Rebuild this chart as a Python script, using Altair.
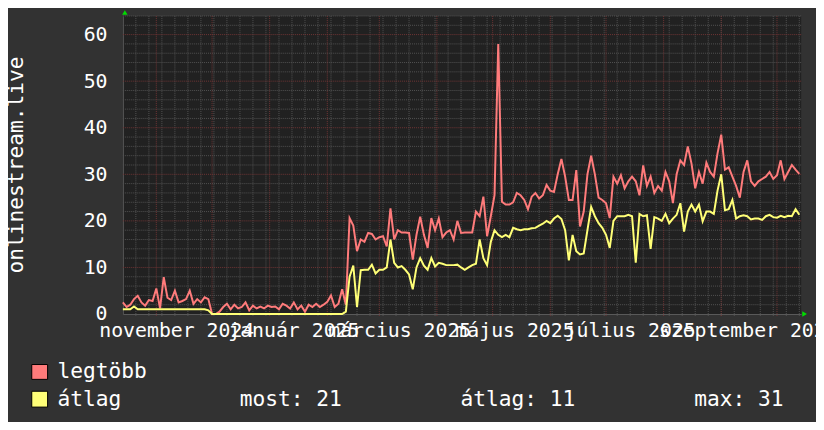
import altair as alt
import pandas as pd

# ---------------- data ----------------
start_date = "2024-10-14"
step_days = 2

legtobb = [
    2.5, 1.5, 2, 3.2, 3.9, 2.5, 1.8, 3, 2.8, 5.5, 1.2, 7.9, 3.5, 3, 5, 2.5, 2.8, 3.2, 5, 2.2, 3.2, 2.5, 3.6, 3.2,
    0, 0, 0.5, 1.5, 2.2, 1, 2, 1.2, 1.5, 2.5, 0.8, 1.8, 1.2, 1.6, 1.2, 1.8, 1.5, 1.6, 1, 2.2, 1.8, 1.2, 2.5, 1,
    1.8, 0.5, 2, 1.5, 2.2, 1.5, 2, 2.6, 4, 1.5, 2.2, 5.3, 2,
    20.6, 19, 13.5, 16, 15.5, 17.4, 17.2, 16, 16.5, 16.7, 14.5, 22.7, 16, 18, 17.5, 17.5, 17.4, 11.7, 17, 20.9,
    17, 14.2, 20.6, 18, 20.5, 16.5, 17.5, 18, 16, 20,
    17.4, 17.5, 17.5, 17.5, 22, 21, 25.2, 16.7, 21, 25.5, 58, 24.1, 23.5, 23.5, 24, 26, 25.5, 24.5, 22.5, 25.2,
    26, 24.8, 25.5, 27.7, 26.5, 26.2, 30, 33.3, 29.5, 24.5,
    24.5, 30.9, 18.8, 22, 30, 34, 30, 25, 24.5, 23.8, 20.6, 29.5, 28, 29.8, 27, 28.5, 29.5, 28.5, 25.5, 31.9,
    27.5, 29.5, 26, 27.5, 26.5, 30.5, 28.5, 23.8, 30, 33, 32,
    36, 32.3, 27, 30.5, 28, 32.5, 30.5, 29.5, 34.5, 38.5, 31, 31.5, 29.5, 27.5, 25, 30.5, 33, 28.5, 27.5, 28.5,
    29, 29.5, 30.5, 29, 29.8, 33, 29, 30.5, 32, 31, 30.1,
]

atlag = [
    1, 1, 1, 1.6, 1, 1, 1, 1, 1, 1, 1, 1, 1, 1, 1, 1, 1, 1, 1, 1, 1, 1, 1, 0.8,
    0, 0, 0, 0, 0, 0, 0, 0, 0, 0, 0, 0, 0, 0, 0, 0, 0, 0, 0, 0, 0, 0, 0, 0, 0, 0, 0, 0, 0, 0, 0, 0, 0, 0, 0, 0,
    0.5,
    8, 10.4, 1.5, 9.4, 9.5, 9.5, 10.6, 8.7, 9.5, 9.5, 10, 16, 11, 10, 10.3, 9.5, 8.5, 5.3, 10, 12,
    10.4, 9.5, 12, 10.2, 11, 10.8, 10.5, 10.5, 10.5, 10.6,
    10, 9.5, 10, 10.5, 10.8, 16, 12, 10.5, 15.5, 18, 17, 16.5, 17, 16.5, 18.5, 18.2, 18, 18.2, 18.2, 18.4,
    18.5, 19, 19.4, 20, 19.5, 20.5, 21.1, 20.4, 18, 11.5,
    17, 13.5, 12.8, 13, 18, 23, 21, 19.5, 18.5, 17, 14.2, 20, 21, 21, 21, 21.3, 21, 11, 21.5, 21,
    21.2, 14, 20.8, 20.5, 20, 21.5, 19.5, 20.5, 21.3, 23.8, 17.7,
    22, 23.5, 22, 23.5, 19.9, 22, 22, 21.5, 26.5, 30, 22.3, 22.5, 24.5, 20.5, 21, 21.2, 21, 20.3, 20.5, 20.5,
    20.2, 21, 21.3, 20.8, 20.7, 21.1, 20.8, 21.1, 21, 22.5, 21.3,
]

month_labels = ["november 2024", "január 2025", "március 2025", "május 2025", "július 2025", "szeptember 2025"]
month_label_dates = ["2024-11-12 00:00", "2025-01-14 00:00", "2025-03-12 00:00", "2025-05-13 00:00",
                     "2025-07-14 00:00", "2025-09-15 12:00"]
y_ticks = [0, 10, 20, 30, 40, 50, 60]
y_title = "onlinestream.live"
series_names = ["legtöbb", "átlag"]
stats = ["most: 21", "átlag: 11", "max: 31"]

# ---------------- tables ----------------
dates = pd.date_range(start_date, periods=len(legtobb), freq=f"{step_days}D")
df = pd.DataFrame({"date": dates, "legtobb": legtobb, "atlag": atlag})

minor_y = pd.DataFrame({"v": [v for v in range(0, 65, 2) if v % 10 != 0]})
major_y = pd.DataFrame({"v": [v for v in y_ticks if v != 0]})
mondays = pd.DataFrame({"d": pd.date_range("2024-10-21", "2025-10-13", freq="7D")})
months = pd.DataFrame({"d": pd.date_range("2024-11-01", "2025-10-01", freq="MS")})
labels_df = pd.DataFrame({"d": pd.to_datetime(month_label_dates, format="%Y-%m-%d %H:%M"),
                          "t": month_labels})
one = pd.DataFrame({"k": [0]})

# ---------------- style ----------------
W, H = 685, 301
FONT = "DejaVu Sans Mono"
RED = "#ff7b7b"
YEL = "#ffff77"
MINOR = "#525252"
MAJOR = "#703535"
AXIS = "#5a5a5a"
LEG_FS = 21.4

xscale = alt.Scale(domain=[alt.DateTime(year=2024, month=10, date=14),
                           alt.DateTime(year=2025, month=10, date=14)])
yscale = alt.Scale(domain=[0, 64], nice=False, zero=True)
xaxis = alt.Axis(labels=False, ticks=False, grid=False, domain=True, domainColor=AXIS, title=None)
yaxis = alt.Axis(values=y_ticks, ticks=False, tickSize=0, grid=False, domain=True, domainColor=AXIS,
                 labelFont=FONT, labelFontSize=20, labelColor="#ffffff", labelPadding=16,
                 labelBaseline="middle", title=None)

X = lambda f: alt.X(f, scale=xscale, axis=xaxis)
Y = lambda f: alt.Y(f, scale=yscale, axis=yaxis)

hminor = alt.Chart(minor_y).mark_rule(color=MINOR, strokeDash=[1, 1], strokeWidth=1).encode(
    y=Y("v:Q"), x=alt.value(0), x2=alt.value(W))
vminor = alt.Chart(mondays).mark_rule(color=MINOR, strokeDash=[1, 1], strokeWidth=1).encode(
    x=X("d:T"), y=alt.value(0), y2=alt.value(H + 2))
hmajor = alt.Chart(major_y).mark_rule(color=MAJOR, strokeDash=[1, 1], strokeWidth=1).encode(
    y=Y("v:Q"), x=alt.value(0), x2=alt.value(W))
vmajor = alt.Chart(months).mark_rule(color=MAJOR, strokeDash=[1, 1], strokeWidth=1).encode(
    x=X("d:T"), y=alt.value(0), y2=alt.value(H + 2))

line_max = alt.Chart(df).mark_line(color=RED, strokeWidth=2).encode(x=X("date:T"), y=Y("legtobb:Q"))
line_avg = alt.Chart(df).mark_line(color=YEL, strokeWidth=2).encode(x=X("date:T"), y=Y("atlag:Q"))

xlabels = alt.Chart(labels_df).mark_text(font=FONT, fontSize=20, color="#ffffff", align="center",
                                         baseline="alphabetic").encode(
    x=X("d:T"), y=alt.value(324), text="t:N")

ytitle = alt.Chart(one).mark_text(font=FONT, fontSize=LEG_FS, color="#ffffff", align="center",
                                  baseline="alphabetic", angle=270).encode(
    x=alt.value(-100.5), y=alt.value(150.5), text=alt.value(y_title))

arrow_up = alt.Chart(one).mark_point(shape="triangle-up", filled=True, color="#00dd00", size=30,
                                     opacity=1).encode(x=alt.value(2), y=alt.value(-3.5))
arrow_right = alt.Chart(one).mark_point(shape="triangle-right", filled=True, color="#00dd00", size=30,
                                        opacity=1).encode(x=alt.value(688.5), y=alt.value(301))

sw1 = alt.Chart(one).mark_rect(color=RED, stroke="#000000", strokeWidth=1).encode(
    x=alt.value(-92), x2=alt.value(-76), y=alt.value(352), y2=alt.value(367))
sw2 = alt.Chart(one).mark_rect(color=YEL, stroke="#000000", strokeWidth=1).encode(
    x=alt.value(-92), x2=alt.value(-76), y=alt.value(379), y2=alt.value(395))

def ltext(t, x, y):
    return alt.Chart(one).mark_text(font=FONT, fontSize=LEG_FS, color="#ffffff", align="left",
                                    baseline="alphabetic").encode(
        x=alt.value(x), y=alt.value(y), text=alt.value(t))

legend_texts = [
    ltext(series_names[0], -66, 366),
    ltext(series_names[1], -66, 394),
    ltext(stats[0], 118, 394),
    ltext(stats[1], 341, 394),
    ltext(stats[2], 577, 394),
]

chart = alt.layer(
    hminor, vminor, hmajor, vmajor, line_max, line_avg, xlabels, ytitle,
    arrow_up, arrow_right, sw1, sw2, *legend_texts
).properties(
    width=W, height=H,
    autosize=alt.AutoSizeParams(type="none"),
    padding={"left": 116, "top": 6, "right": 15, "bottom": 107},
    background="#323232",
).configure_view(fill="#212121", stroke=None)

chart.save("out.html", embed_options={"renderer": "svg", "actions": False})
